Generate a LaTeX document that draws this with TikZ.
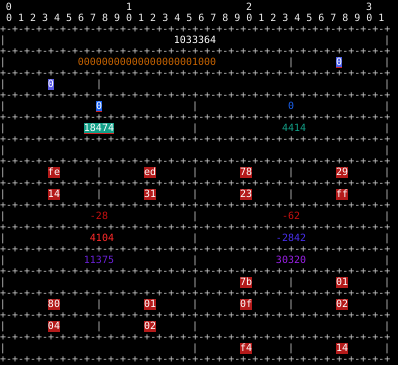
\documentclass[tikz,border=0pt]{standalone}
\usepackage{fontspec}
\newfontfamily\monofnt{DejaVu Sans Mono}
\definecolor{gridc}{HTML}{C8C8C8}
\definecolor{txtc}{HTML}{F0F0F0}
\definecolor{orangec}{HTML}{C86400}
\definecolor{blueA}{HTML}{4A5EE8}
\definecolor{blueB}{HTML}{5C5CE6}
\definecolor{blueC}{HTML}{1A62F0}
\definecolor{tealc}{HTML}{12A088}
\definecolor{boxred}{HTML}{B41A1A}
\definecolor{darkred}{HTML}{C81010}
\definecolor{brightred}{HTML}{FF2A2A}
\definecolor{bluepurple}{HTML}{4A30F0}
\definecolor{purpleA}{HTML}{6A20D8}
\definecolor{purpleB}{HTML}{9A20E8}
\definecolor{ulred}{HTML}{D02020}
\newcommand\fld[6]{\node[lbl,#5] (#1) at ({6*#2+3*#4},{-(10.5+11*#3)}) {#6};}
\newcommand\barsat[2]{\foreach \c in {#2} {\node[barc] (v#1-\c) at ({6*\c+3},{-(10.5+11*#1)}) {|};}}
\begin{document}
\begin{tikzpicture}[x=1pt,y=1pt,
  every node/.style={inner sep=0pt, font=\monofnt\fontsize{9.97}{11}\selectfont},
  lbl/.style={anchor=base, text height=9pt, text depth=2pt, text=txtc},
  barc/.style={anchor=base, text=gridc},
  gridline/.style={anchor=base west, text=gridc},
  hexbox/.style={fill=boxred, text=white},
  ul/.style={ulred, line width=1pt}]
\fill[black] (0,0) rectangle (398,-365);
\useasboundingbox (0,0) rectangle (398,-365);
% header
\fld{h0}{1}{0}{1}{}{0}
\fld{h1}{21}{0}{1}{}{1}
\fld{h2}{41}{0}{1}{}{2}
\fld{h3}{61}{0}{1}{}{3}
\node[gridline, text=txtc] (hdr) at (6,-21.5) {0 1 2 3 4 5 6 7 8 9 0 1 2 3 4 5 6 7 8 9 0 1 2 3 4 5 6 7 8 9 0 1};
% borders
\foreach \k in {2,4,...,32} {
  \node[gridline] (b\k) at (0,{-(10.5+11*\k)}) {+-+-+-+-+-+-+-+-+-+-+-+-+-+-+-+-+-+-+-+-+-+-+-+-+-+-+-+-+-+-+-+-+};
}
% bars
\barsat{3}{0,64}
\barsat{5}{0,48,64}
\barsat{7}{0,16,64}
\barsat{9}{0,32,64}
\barsat{11}{0,32,64}
\barsat{13}{0,64}
\barsat{15}{0,16,32,48,64}
\barsat{17}{0,16,32,48,64}
\barsat{19}{0,32,64}
\barsat{21}{0,32,64}
\barsat{23}{0,32,64}
\barsat{25}{0,32,48,64}
\barsat{27}{0,16,32,48,64}
\barsat{29}{0,16,32,64}
\barsat{31}{0,32,48,64}
% fields
\fld{f1}{29}{3}{7}{text=white}{1033364}
\fld{f2}{13}{5}{23}{text=orangec}{00000000000000000001000}
\fld{f3}{56}{5}{1}{fill=blueA,text=white}{0}
\fld{f4}{8}{7}{1}{fill=blueB,text=white}{0}
\fld{f5}{16}{9}{1}{fill=blueC,text=white}{0}
\fld{f6}{48}{9}{1}{text=blueC}{0}
\fld{f7}{14}{11}{5}{fill=tealc,text=white}{18474}
\fld{f8}{47}{11}{4}{text=tealc}{4414}
\fld{g1}{8}{15}{2}{hexbox}{fe}
\fld{g2}{24}{15}{2}{hexbox}{ed}
\fld{g3}{40}{15}{2}{hexbox}{78}
\fld{g4}{56}{15}{2}{hexbox}{29}
\fld{g5}{8}{17}{2}{hexbox}{14}
\fld{g6}{24}{17}{2}{hexbox}{31}
\fld{g7}{40}{17}{2}{hexbox}{23}
\fld{g8}{56}{17}{2}{hexbox}{ff}
\fld{n1}{15}{19}{3}{text=darkred}{-28}
\fld{n2}{47}{19}{3}{text=darkred}{-62}
\fld{n3}{15}{21}{4}{text=brightred}{4104}
\fld{n4}{46}{21}{5}{text=bluepurple}{-2842}
\fld{n5}{14}{23}{5}{text=purpleA}{11375}
\fld{n6}{46}{23}{5}{text=purpleB}{30320}
\fld{k1}{40}{25}{2}{hexbox}{7b}
\fld{k2}{56}{25}{2}{hexbox}{01}
\fld{k3}{8}{27}{2}{hexbox}{80}
\fld{k4}{24}{27}{2}{hexbox}{01}
\fld{k5}{40}{27}{2}{hexbox}{0f}
\fld{k6}{56}{27}{2}{hexbox}{02}
\fld{k7}{8}{29}{2}{hexbox}{04}
\fld{k8}{24}{29}{2}{hexbox}{02}
\fld{k9}{40}{31}{2}{hexbox}{f4}
\fld{k10}{56}{31}{2}{hexbox}{14}
% underlines
\draw[ul] ([yshift=0.5pt]f3.south west) -- ([yshift=0.5pt]f3.south east);
\draw[ul] ([yshift=0.5pt]f5.south west) -- ([yshift=0.5pt]f5.south east);
\draw[ul] ([yshift=0.5pt]f7.south west) -- ([yshift=0.5pt]f7.south east);
\end{tikzpicture}
\end{document}
